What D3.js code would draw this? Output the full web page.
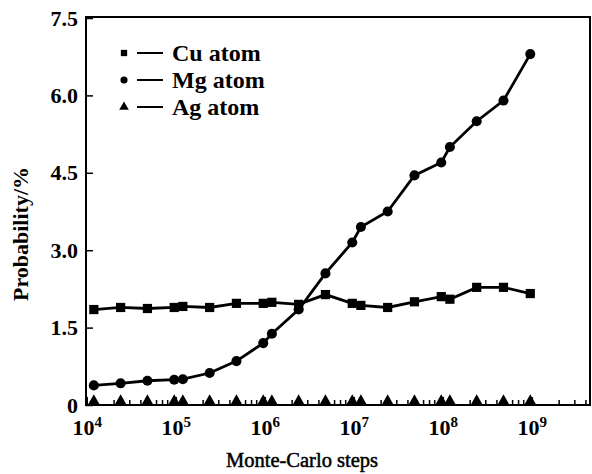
<!DOCTYPE html>
<html lang="en">
<head>
    <meta charset="UTF-8">
    <script src="https://d3js.org/d3.v7.min.js"></script>
    <style>
        body { margin: 0; background: #fff; }
        text { font-family: "Liberation Serif", "Times New Roman", serif; fill: #000; }
    </style>
</head>
<body>
    <svg width="592" height="474" id="chart"></svg>

    <script>
    // Monte-Carlo steps at which the probabilities were sampled
    const steps = [1.2e4, 2.4e4, 4.8e4, 9.6e4, 1.2e5, 2.4e5, 4.8e5, 9.6e5, 1.2e6, 2.4e6,
                   4.8e6, 9.6e6, 1.2e7, 2.4e7, 4.8e7, 9.6e7, 1.2e8, 2.4e8, 4.8e8, 9.6e8];

    // Probability (%) for each atom type
    const cuValues = [1.85, 1.89, 1.87, 1.89, 1.91, 1.89, 1.97, 1.97, 1.99, 1.95,
                      2.14, 1.97, 1.93, 1.89, 2.00, 2.10, 2.05, 2.28, 2.28, 2.16];
    const mgValues = [0.38, 0.42, 0.47, 0.49, 0.50, 0.62, 0.85, 1.20, 1.38, 1.85,
                      2.55, 3.15, 3.45, 3.75, 4.45, 4.70, 5.00, 5.50, 5.90, 6.80];
    const agValues = [0.08, 0.08, 0.08, 0.08, 0.08, 0.08, 0.08, 0.08, 0.08, 0.08,
                      0.08, 0.08, 0.08, 0.08, 0.08, 0.08, 0.08, 0.08, 0.08, 0.08];

    const yTicks = [0, 1.5, 3.0, 4.5, 6.0, 7.5];
    const xTicks = [1e4, 1e5, 1e6, 1e7, 1e8, 1e9];
    const legendLabels = ["Cu atom", "Mg atom", "Ag atom"];

    const svg = d3.select("#chart");
    const plot = { left: 86, right: 590, top: 17, bottom: 405 };

    const x = d3.scaleLog().domain([9800, 4.5e9]).range([plot.left, plot.right]);
    const y = d3.scaleLinear().domain([0, 7.5]).range([plot.bottom, plot.top + 1]);

    // minor ticks on the log axis (2..9 per decade)
    const minorTicks = [];
    for (let e = 4; e <= 9; e++) {
        for (let m = 2; m <= 9; m++) {
            const v = m * Math.pow(10, e);
            if (v < 4.5e9) minorTicks.push(v);
        }
    }

    // frame
    svg.append("rect")
        .attr("x", plot.left).attr("y", plot.top)
        .attr("width", plot.right - plot.left).attr("height", plot.bottom - plot.top)
        .attr("fill", "none").attr("stroke", "#000").attr("stroke-width", 2);

    // x axis minor ticks
    svg.append("g")
        .attr("transform", "translate(0," + plot.bottom + ")")
        .call(d3.axisBottom(x).tickValues(minorTicks).tickSize(-5).tickFormat(""))
        .call(g => g.select(".domain").remove())
        .selectAll("line").attr("stroke-width", 1.5);

    // x axis major ticks + labels
    const xAxis = svg.append("g")
        .attr("transform", "translate(0," + plot.bottom + ")")
        .call(d3.axisBottom(x).tickValues(xTicks).tickSize(-8).tickPadding(14))
        .call(g => g.select(".domain").remove());
    xAxis.selectAll("line").attr("stroke-width", 1.5);
    xAxis.selectAll(".tick text").each(function(d) {
        const t = d3.select(this).text("")
            .attr("font-size", 22).attr("font-weight", "bold");
        t.append("tspan").text("10");
        t.append("tspan").attr("dy", -8).attr("font-size", 15).text(Math.round(Math.log10(d)));
    });

    // y axis
    const yAxis = svg.append("g")
        .attr("transform", "translate(" + plot.left + ",0)")
        .call(d3.axisLeft(y).tickValues(yTicks).tickSize(-7).tickPadding(8)
            .tickFormat(d => d === 0 ? "0" : d3.format(".1f")(d)))
        .call(g => g.select(".domain").remove());
    yAxis.selectAll("line").attr("stroke-width", 1.5);
    yAxis.selectAll(".tick text").attr("font-size", 22).attr("font-weight", "bold");

    // axis titles (regular face, slightly stroked to look like the scanned print)
    svg.append("text")
        .attr("x", 302).attr("y", 467)
        .attr("text-anchor", "middle").attr("font-size", 20.5)
        .attr("stroke", "#000").attr("stroke-width", 0.5)
        .text("Monte-Carlo steps");

    svg.append("text")
        .attr("transform", "translate(28," + 234 + ") rotate(-90)")
        .attr("text-anchor", "middle").attr("font-size", 22).attr("font-weight", "bold")
        .text("Probability/%");

    // series
    const series = [
        { name: "Cu", values: cuValues, symbol: d3.symbolSquare, size: 85 },
        { name: "Mg", values: mgValues, symbol: d3.symbolCircle, size: 80 },
        { name: "Ag", values: agValues, symbol: d3.symbolTriangle, size: 55 }
    ];

    const line = d3.line().x(d => x(d[0])).y(d => y(d[1]));

    series.forEach(function(s) {
        const pts = steps.map((st, i) => [st, s.values[i]]);
        if (s.name !== "Ag") {
            svg.append("path")
                .datum(pts)
                .attr("d", line)
                .attr("fill", "none")
                .attr("stroke", "#000")
                .attr("stroke-width", 2.8);
        }
        svg.append("g").selectAll("path")
            .data(pts)
            .enter().append("path")
            .attr("transform", d => "translate(" + x(d[0]) + "," + y(d[1]) + ")")
            .attr("d", d3.symbol().type(s.symbol).size(s.size))
            .attr("fill", "#000");
    });

    // legend
    const legend = svg.append("g").attr("transform", "translate(124,53)");
    series.forEach(function(s, i) {
        const row = legend.append("g").attr("transform", "translate(0," + (i * 27) + ")");
        row.append("path")
            .attr("d", d3.symbol().type(s.symbol).size(40))
            .attr("fill", "#000");
        row.append("line")
            .attr("x1", 13).attr("x2", 39)
            .attr("stroke", "#000").attr("stroke-width", 2);
        row.append("text")
            .attr("x", 48).attr("y", 8)
            .attr("font-size", 24).attr("font-weight", "bold")
            .text(legendLabels[i]);
    });
    </script>
</body>
</html>
